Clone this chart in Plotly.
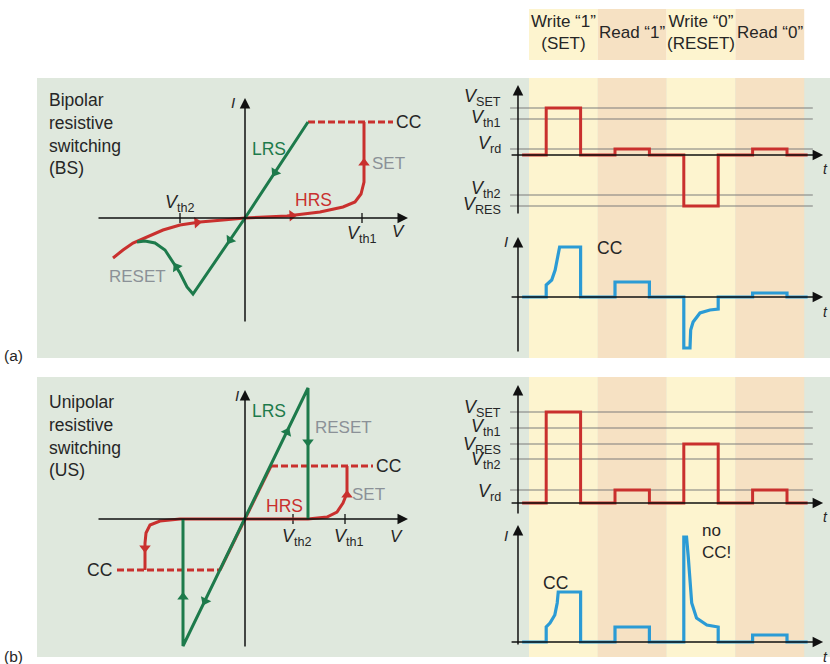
import math
import plotly.graph_objects as go

W, H = 830, 664
FONT = "Liberation Sans, Arial, Helvetica, sans-serif"
RED = "#c9302e"; GREEN = "#1d7a4b"; BLUE = "#2b9bd5"
GRAYTXT = "#8b9197"; TXT = "#262626"; LEVEL = "#7d7d7d"
BG_GREEN = "#dfe8dd"; YEL = "#fdf4cf"; ORA = "#f6e1c3"

# ---------------- DATA ----------------
# (a) Bipolar I-V curve (arbitrary units)
bs_lrs_v = [6.3, 0.0, -5.2, -5.8, -6.5, -7.2, -8.0, -9.0, -10.0, -10.8]
bs_lrs_i = [9.6, 0.0, -7.6, -6.9, -5.5, -4.4, -3.2, -2.5, -2.3, -2.4]
bs_reset_v = [-13.2, -12.2, -11.2, -9.8, -8.2, -6.5, -4.5, -2.2, 0.0]
bs_reset_i = [-4.0, -3.2, -2.5, -1.9, -1.2, -0.7, -0.4, -0.2, 0.0]
bs_hrs_v = [0.0, 4.2, 7.5, 9.8, 11.0, 11.6, 11.9, 11.9]
bs_hrs_i = [0.0, 0.2, 0.6, 1.1, 1.6, 2.4, 3.6, 9.6]
bs_cc_v = [6.3, 14.8]
bs_cc_i = [9.6, 9.6]
bs_vth2, bs_vth1 = -6.5, 11.7

# (b) Unipolar I-V curve
us_lrs_v = [-6.2, -6.2, 6.3, 6.3]
us_lrs_i = [0.0, -12.7, 13.1, 0.0]
us_hrs_pos_v = [0.0, 6.3, 8.2, 9.2, 9.8, 10.2, 10.2]
us_hrs_pos_i = [0.0, 0.0, 0.2, 0.7, 1.6, 2.6, 5.3]
us_hrs_neg_v = [0.0, -6.5, -8.5, -9.5, -9.9, -10.0, -10.0]
us_hrs_neg_i = [0.0, 0.0, -0.2, -0.6, -1.4, -2.4, -5.1]
us_cc_pos_v = [2.6, 12.8]
us_cc_pos_i = [5.3, 5.3]
us_cc_neg_v = [-12.8, -2.5]
us_cc_neg_i = [-5.1, -5.1]
us_vth2, us_vth1 = 4.8, 10.0

# Timing diagrams
phase_names = ["Write “1”<br>(SET)", "Read “1”", "Write “0”<br>(RESET)", "Read “0”"]
phase_bounds = [0.5, 2.5, 4.5, 6.5, 8.5]
t_edges = [0.3, 1, 2, 3, 4, 5, 6, 7, 8, 8.6]

bs_level_names = ["SET", "th1", "rd", "th2", "RES"]
bs_level_vals = [4.7, 3.6, 0.6, -4.0, -5.1]
us_level_names = ["SET", "th1", "RES", "th2", "rd"]
us_level_vals = [9.1, 7.5, 5.9, 4.4, 1.3]

bs_lv = dict(zip(bs_level_names, bs_level_vals))
us_lv = dict(zip(us_level_names, us_level_vals))
bs_v_wave = [0, bs_lv["SET"], 0, bs_lv["rd"], 0, bs_lv["RES"], 0, bs_lv["rd"], 0, 0]
us_v_wave = [0, us_lv["SET"], 0, us_lv["rd"], 0, us_lv["RES"], 0, us_lv["rd"], 0, 0]

bs_i_t = [0.3, 1, 1, 1.16, 1.26, 1.33, 1.39, 2, 2, 3, 3, 4, 4, 5, 5, 5.18, 5.2, 5.27, 5.47, 5.76, 6, 6, 7, 7, 8, 8, 8.6]
bs_i_val = [0, 0, 1.2, 1.7, 2.7, 4.0, 5.0, 5.0, 0, 0, 1.5, 1.5, 0, 0, -5.1, -5.1, -3.3, -2.5, -1.6, -1.3, -1.2, 0, 0, 0.4, 0.4, 0, 0]
us_i_t = [0.3, 1, 1, 1.11, 1.25, 1.32, 1.35, 2, 2, 3, 3, 4, 4, 5, 5, 5.08, 5.13, 5.23, 5.37, 5.67, 6, 6, 7, 7, 8, 8, 8.6]
us_i_val = [0, 0, 1.5, 1.9, 2.7, 3.9, 5.0, 5.0, 0, 0, 1.5, 1.5, 0, 0, 10.5, 10.5, 8.5, 3.9, 2.4, 1.7, 1.5, 0, 0, 0.7, 0.7, 0, 0]

# ---------------- LAYOUT HELPERS ----------------
# subplot: pixel box (x0,x1,y0,y1), origin pixel, pixels per unit
SUB = {
    1: dict(box=(60, 420, 85, 352), o=(245, 218), s=(10, 10)),
    2: dict(box=(500, 830, 80, 226), o=(511.8, 155), s=(34.4, 10)),
    3: dict(box=(500, 830, 228, 358), o=(511.8, 297), s=(34.4, 10)),
    4: dict(box=(60, 420, 380, 656), o=(245, 519), s=(10, 10)),
    5: dict(box=(500, 830, 380, 520), o=(511.8, 503), s=(34.4, 10)),
    6: dict(box=(500, 830, 522, 660), o=(511.8, 642), s=(34.4, 10)),
}

fig = go.Figure()
layout = {}
for k, c in SUB.items():
    x0, x1, y0, y1 = c["box"]
    ox, oy = c["o"]
    sx, sy = c["s"]
    xn = "xaxis" if k == 1 else f"xaxis{k}"
    yn = "yaxis" if k == 1 else f"yaxis{k}"
    layout[xn] = dict(domain=[x0 / W, x1 / W], range=[(x0 - ox) / sx, (x1 - ox) / sx],
                      visible=False, fixedrange=True, anchor="y" if k == 1 else f"y{k}")
    layout[yn] = dict(domain=[1 - y1 / H, 1 - y0 / H], range=[(oy - y1) / sy, (oy - y0) / sy],
                      visible=False, fixedrange=True, anchor="x" if k == 1 else f"x{k}")


def refs(k):
    return ("x", "y") if k == 1 else (f"x{k}", f"y{k}")


def line(k, x, y, color, width=3, dash=None, shape="linear"):
    xr, yr = refs(k)
    fig.add_trace(go.Scatter(x=x, y=y, mode="lines", xaxis=xr, yaxis=yr, hoverinfo="skip",
                             line=dict(color=color, width=width, dash=dash, shape=shape),
                             showlegend=False))


def dir_arrow(k, x, y, dx, dy, color, size=10):
    sx, sy = SUB[k]["s"]
    ang = math.degrees(math.atan2(dx * sx, dy * sy))
    xr, yr = refs(k)
    fig.add_trace(go.Scatter(x=[x], y=[y], mode="markers", xaxis=xr, yaxis=yr, hoverinfo="skip",
                             cliponaxis=False, showlegend=False,
                             marker=dict(symbol="triangle-up", size=size, angle=ang, color=color,
                                         line=dict(width=0))))


annots = []


def axis_arrow(k, x0, y0, x1, y1):
    xr, yr = refs(k)
    annots.append(dict(x=x1, y=y1, ax=x0, ay=y0, xref=xr, yref=yr, axref=xr, ayref=yr,
                       showarrow=True, arrowhead=2, arrowsize=1.4, arrowwidth=1.5,
                       arrowcolor="#111", text="", standoff=0))


def txt(k, x, y, text, size=16, color=TXT, xa="center", ya="middle", yshift=0):
    xr, yr = refs(k)
    annots.append(dict(x=x, y=y, xref=xr, yref=yr, text=text, showarrow=False,
                       font=dict(family=FONT, size=size, color=color),
                       xanchor=xa, yanchor=ya, yshift=yshift, align="left"))


def ptxt(px, py, text, size=16, xa="left", ya="middle", color=TXT):
    annots.append(dict(x=px / W, y=1 - py / H, xref="paper", yref="paper", text=text,
                       showarrow=False, font=dict(family=FONT, size=size, color=color),
                       xanchor=xa, yanchor=ya, align="left"))


def tpx(t):
    return (SUB[2]["o"][0] + SUB[2]["s"][0] * t) / W


shapes = []


def prect(x0, x1, py0, py1, color):
    shapes.append(dict(type="rect", xref="paper", yref="paper", x0=x0, x1=x1,
                       y0=1 - py1 / H, y1=1 - py0 / H, fillcolor=color,
                       line=dict(width=0), layer="below"))


# Backgrounds
for (py0, py1) in [(78, 358), (377, 657)]:
    prect(37 / W, 1.0, py0, py1, BG_GREEN)
for (py0, py1) in [(9, 60), (78, 358), (377, 657)]:
    for j in range(4):
        prect(tpx(phase_bounds[j]), tpx(phase_bounds[j + 1]), py0, py1, YEL if j % 2 == 0 else ORA)

# Header texts
for j, name in enumerate(phase_names):
    tc = (phase_bounds[j] + phase_bounds[j + 1]) / 2
    annots.append(dict(x=tpx(tc), y=1 - 33 / H, xref="paper", yref="paper", text=name,
                       showarrow=False, font=dict(family=FONT, size=17, color=TXT),
                       xanchor="center", yanchor="middle", align="center"))

# Panel texts
ptxt(47, 88, "Bipolar<br>resistive<br>switching<br>(BS)", size=17.5, ya="top")
ptxt(47, 390, "Unipolar<br>resistive<br>switching<br>(US)", size=17.5, ya="top")
ptxt(2, 355, "(a)", size=15.5)
ptxt(2, 656, "(b)", size=15.5)

DASH = "7px,3px"

# ---------------- (a) Bipolar I-V ----------------
k = 1
axis_arrow(k, -14.8, 0, 16.3, 0)
axis_arrow(k, 0, -10.5, 0, 12.0)
for vt in (bs_vth2, bs_vth1):
    line(k, [vt, vt], [-0.5, 0.5], "#111", width=1.3)
line(k, bs_cc_v, bs_cc_i, RED, width=3, dash=DASH)
line(k, bs_reset_v, bs_reset_i, RED)
line(k, bs_hrs_v, bs_hrs_i, RED)
line(k, bs_lrs_v, bs_lrs_i, GREEN)
dir_arrow(k, -4.8, -0.45, 1, 0.08, RED)
dir_arrow(k, 4.7, 0.23, 1, 0.05, RED)
dir_arrow(k, 11.9, 5.5, 0, 1, RED)
dir_arrow(k, 3.0, 4.55, -6.3, -9.6, GREEN)
dir_arrow(k, -1.5, -2.2, -5.2, -7.6, GREEN)
dir_arrow(k, -6.85, -4.9, -0.7, 1.1, GREEN)
txt(k, -1.2, 11.6, "<i>I</i>", size=15)
txt(k, 15.3, -1.3, "<i>V</i>", size=17)
txt(k, bs_vth2, 1.5, "<i>V</i><sub>th2</sub>", size=18)
txt(k, bs_vth1, -1.6, "<i>V</i><sub>th1</sub>", size=18)
txt(k, 14.9, 9.6, "CC", size=17.5, xa="left")
txt(k, 2.4, 6.9, "LRS", size=17.5, color=GREEN)
txt(k, 6.8, 1.8, "HRS", size=17.5, color=RED)
txt(k, 14.3, 5.45, "SET", size=17, color=GRAYTXT)
txt(k, -10.8, -5.85, "RESET", size=17, color=GRAYTXT)

# ---------------- (b) Unipolar I-V ----------------
k = 4
axis_arrow(k, -14.8, 0, 16.3, 0)
axis_arrow(k, 0, -12.9, 0, 12.9)
for vt in (us_vth2, us_vth1):
    line(k, [vt, vt], [-0.5, 0.5], "#111", width=1.3)
line(k, us_cc_pos_v, us_cc_pos_i, RED, width=3, dash=DASH)
line(k, us_cc_neg_v, us_cc_neg_i, RED, width=3, dash=DASH)
line(k, [us_cc_pos_v[0], 0], [us_cc_pos_i[0], 0], RED)
line(k, [0, us_cc_neg_v[1]], [0, us_cc_neg_i[1]], RED)
line(k, us_hrs_pos_v, us_hrs_pos_i, RED)
line(k, us_hrs_neg_v, us_hrs_neg_i, RED)
line(k, us_lrs_v, us_lrs_i, GREEN)
dir_arrow(k, 10.2, 2.4, 0, 1, RED)
dir_arrow(k, -10.0, -2.9, 0, -1, RED)
dir_arrow(k, -6.2, -7.8, 0, 1, GREEN)
dir_arrow(k, -4.0, -8.2, -6.2, -12.7, GREEN)
dir_arrow(k, 4.2, 8.7, 6.3, 13.1, GREEN)
dir_arrow(k, 6.3, 7.7, 0, -1, GREEN)
txt(k, -0.8, 12.4, "<i>I</i>", size=15)
txt(k, 15.1, -1.7, "<i>V</i>", size=17)
txt(k, 5.2, -1.8, "<i>V</i><sub>th2</sub>", size=18)
txt(k, 10.4, -1.8, "<i>V</i><sub>th1</sub>", size=18)
txt(k, 12.9, 5.3, "CC", size=17.5, xa="left")
txt(k, -13.1, -5.1, "CC", size=17.5, xa="right")
txt(k, 2.4, 10.8, "LRS", size=17.5, color=GREEN)
txt(k, 3.9, 1.3, "HRS", size=17.5, color=RED)
txt(k, 12.3, 2.5, "SET", size=17, color=GRAYTXT)
txt(k, 9.8, 9.2, "RESET", size=17, color=GRAYTXT)

# ---------------- Timing diagrams ----------------
t_axis = 0.18
label_t = -0.26


def voltage_panel(k, names, vals, wave, ybot, ytop, shifts):
    for n, v, sh in zip(names, vals, shifts):
        line(k, [-0.05, 8.75], [v, v], LEVEL, width=1.1)
        txt(k, label_t, v, f"<i>V</i><sub>{n}</sub>", size=18, xa="right", yshift=sh)
    axis_arrow(k, -0.05, 0, 9.05, 0)
    axis_arrow(k, t_axis, ybot, t_axis, ytop)
    line(k, t_edges, wave, RED, width=3, shape="hv")
    txt(k, 9.13, -1.4, "<i>t</i>", size=14)


def current_panel(k, t, vals, ybot, ytop, ilabel_y):
    axis_arrow(k, -0.05, 0, 9.05, 0)
    axis_arrow(k, t_axis, ybot, t_axis, ytop)
    line(k, t, vals, BLUE, width=3.2)
    txt(k, -0.17, ilabel_y, "<i>I</i>", size=15)
    txt(k, 9.13, -1.5, "<i>t</i>", size=14)


voltage_panel(2, bs_level_names, bs_level_vals, bs_v_wave, -6.0, 7.0, [10, 0, 4, 5, 0])
current_panel(3, bs_i_t, bs_i_val, -5.6, 6.0, 5.6)
txt(3, 2.85, 4.95, "CC", size=17.5)

voltage_panel(5, us_level_names, us_level_vals, us_v_wave, -1.2, 11.8, [4, 1, -1, -1, -2])
current_panel(6, us_i_t, us_i_val, -0.4, 11.7, 10.7)
txt(6, 1.27, 5.9, "CC", size=17.5)
txt(6, 5.46, 10.1, "no<br>CC!", size=17, xa="left")

fig.update_layout(
    width=W, height=H, margin=dict(l=0, r=0, t=0, b=0, pad=0),
    paper_bgcolor="white", plot_bgcolor="rgba(0,0,0,0)",
    showlegend=False, shapes=shapes, annotations=annots,
    font=dict(family=FONT, color=TXT), **layout)

fig.write_html("out.html")
